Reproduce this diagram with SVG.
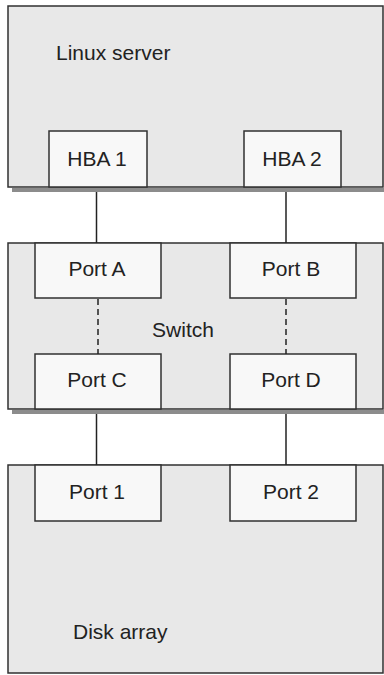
<svg xmlns="http://www.w3.org/2000/svg" width="384" height="675" viewBox="0 0 384 675">
<style>
.outer{fill:#e8e8e8;stroke:#303030;stroke-width:1.5}
.inner{fill:#f8f8f8;stroke:#303030;stroke-width:1.5}
.shadow{fill:#8c8c8c}
text{font-family:"Liberation Sans",Arial,sans-serif;font-size:21px;fill:#222}
.c{text-anchor:middle}
.conn{stroke:#222;stroke-width:1.5;fill:none}
.dash{stroke-dasharray:6,4}
</style>
<rect x="0" y="0" width="384" height="675" fill="#ffffff"/>
<g id="server">
<rect class="shadow" x="12" y="188" width="372" height="4"/>
<rect class="outer" x="8" y="6" width="375" height="181"/>
<text x="56" y="60">Linux server</text>
</g>
<g id="hba1"><rect class="inner" x="49" y="131" width="98" height="56"/><text class="c" x="97" y="166">HBA 1</text></g>
<g id="hba2"><rect class="inner" x="244" y="131" width="97" height="56"/><text class="c" x="292" y="166">HBA 2</text></g>
<g id="switch">
<rect class="shadow" x="12" y="410" width="372" height="4"/>
<rect class="outer" x="8" y="243" width="375" height="166"/>
<text class="c" x="183" y="337">Switch</text>
</g>
<g id="portA"><rect class="inner" x="35" y="243" width="126" height="55"/><text class="c" x="97" y="276">Port A</text></g>
<g id="portB"><rect class="inner" x="230" y="243" width="126" height="55"/><text class="c" x="291" y="276">Port B</text></g>
<g id="portC"><rect class="inner" x="35" y="354" width="126" height="55"/><text class="c" x="97" y="387">Port C</text></g>
<g id="portD"><rect class="inner" x="230" y="354" width="126" height="55"/><text class="c" x="291" y="387">Port D</text></g>
<g id="disk">
<rect class="outer" x="8" y="465" width="375" height="208"/>
<text x="73" y="639">Disk array</text>
</g>
<g id="port1"><rect class="inner" x="35" y="465" width="126" height="56"/><text class="c" x="97" y="499">Port 1</text></g>
<g id="port2"><rect class="inner" x="230" y="465" width="126" height="56"/><text class="c" x="291" y="499">Port 2</text></g>
<g id="connectors">
<line class="conn" x1="96.5" y1="192" x2="96.5" y2="243"/>
<line class="conn" x1="286" y1="192" x2="286" y2="243"/>
<line class="conn dash" x1="98" y1="299" x2="98" y2="354"/>
<line class="conn dash" x1="286" y1="299" x2="286" y2="354"/>
<line class="conn" x1="96.5" y1="414" x2="96.5" y2="465"/>
<line class="conn" x1="286" y1="414" x2="286" y2="465"/>
</g>
</svg>
